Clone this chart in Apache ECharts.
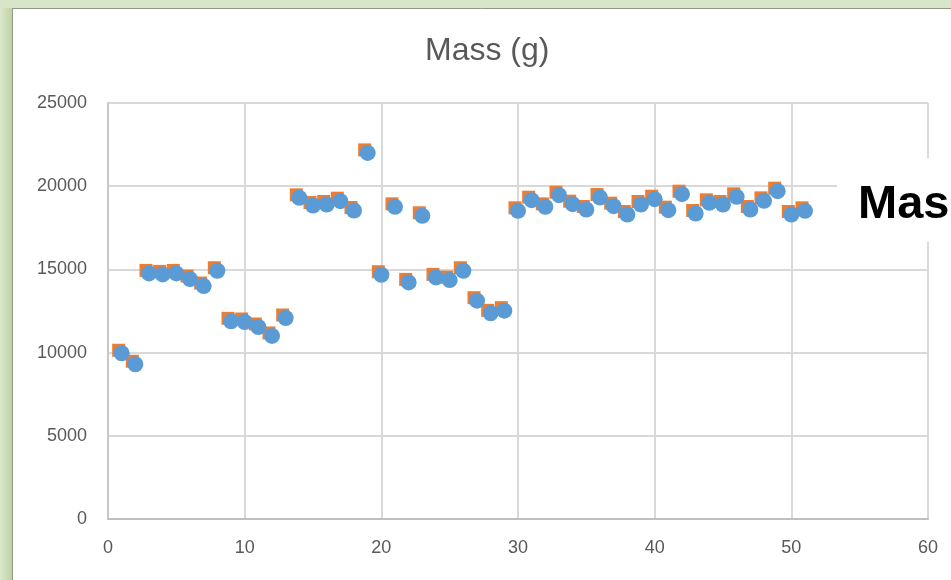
<!DOCTYPE html>
<html>
<head>
<meta charset="utf-8">
<script src="https://cdn.jsdelivr.net/npm/echarts@6/dist/echarts.min.js"></script>
<style>
  html, body { margin: 0; padding: 0; background: #ffffff; }
  #chart { width: 951px; height: 580px; }
</style>
</head>
<body>
<div id="chart"></div>
<script>
// Sample index (x) and measured mass in grams (y)
var sampleIndex = [1, 2, 3, 4, 5, 6, 7, 8, 9, 10,
                   11, 12, 13, 14, 15, 16, 17, 18, 19, 20,
                   21, 22, 23, 24, 25, 26, 27, 28, 29, 30,
                   31, 32, 33, 34, 35, 36, 37, 38, 39, 40,
                   41, 42, 43, 44, 45, 46, 47, 48, 49, 50, 51];
var massGrams = [9960, 9300, 14760, 14700, 14760, 14420, 14000, 14920, 11880, 11840,
                 11540, 11000, 12080, 19300, 18840, 18900, 19100, 18540, 22000, 14680,
                 18760, 14220, 18220, 14520, 14360, 14920, 13120, 12360, 12520, 18520,
                 19160, 18760, 19460, 18920, 18600, 19320, 18800, 18300, 18900, 19220,
                 18560, 19520, 18360, 19000, 18900, 19360, 18600, 19120, 19700, 18300, 18520];
var xTicks = { min: 0, max: 60, step: 10 };
var yTicks = { min: 0, max: 25000, step: 5000 };
var chartTitle = 'Mass (g)';
var seriesName = 'Mass';

var points = sampleIndex.map(function (x, i) { return [x, massGrams[i]]; });

var font = "'Liberation Sans', Arial, sans-serif";
var chart = echarts.init(document.getElementById('chart'), null, { renderer: 'canvas' });

chart.setOption({
  animation: false,
  backgroundColor: '#ffffff',
  title: {
    text: chartTitle,
    left: 425,
    top: 35,
    padding: 0,
    textStyle: { fontFamily: font, fontSize: 32, fontWeight: 'normal', color: '#595959' }
  },
  grid: {
    left: 108, right: 23, top: 103, bottom: 61,
    containLabel: false,
    outerBoundsMode: 'none'
  },
  xAxis: {
    type: 'value',
    min: xTicks.min, max: xTicks.max, interval: xTicks.step,
    axisLine: { show: true, lineStyle: { color: '#BFBFBF', width: 2 } },
    axisTick: { show: false },
    axisLabel: { fontFamily: font, fontSize: 18, color: '#595959', margin: 20 },
    splitLine: { show: true, lineStyle: { color: '#D9D9D9', width: 2 } }
  },
  yAxis: {
    type: 'value',
    min: yTicks.min, max: yTicks.max, interval: yTicks.step,
    axisLine: { show: true, lineStyle: { color: '#C8C8C8', width: 2 } },
    axisTick: { show: false },
    axisLabel: {
      fontFamily: font, fontSize: 18, color: '#595959', margin: 21,
      formatter: function (v) { return String(v); }
    },
    splitLine: { show: true, lineStyle: { color: '#D9D9D9', width: 2 } }
  },
  series: [
    {
      name: seriesName + ' (alt)',
      type: 'scatter',
      symbol: 'rect',
      symbolSize: 13,
      symbolOffset: [-3, -3],
      itemStyle: { color: '#ED7D31', opacity: 1 },
      data: points,
      z: 2
    },
    {
      name: seriesName,
      type: 'scatter',
      symbol: 'circle',
      symbolSize: 16,
      itemStyle: { color: '#5B9BD5', opacity: 1 },
      data: points,
      z: 3
    }
  ],
  graphic: [
    // green frame strips on the left and top edges
    {
      type: 'rect', z: 0,
      shape: { x: 0, y: 0, width: 12, height: 580 },
      style: {
        fill: new echarts.graphic.LinearGradient(0, 0, 1, 0, [
          { offset: 0, color: '#DCE8CF' },
          { offset: 1, color: '#BDD3A2' }
        ])
      }
    },
    {
      type: 'rect', z: 0,
      shape: { x: 0, y: 0, width: 951, height: 8 },
      style: { fill: '#D8E5C9' }
    },
    {
      type: 'line', z: 1,
      shape: { x1: 12.5, y1: 8, x2: 12.5, y2: 580 },
      style: { stroke: '#8E9A84', lineWidth: 1 }
    },
    {
      type: 'line', z: 1,
      shape: { x1: 12, y1: 8.5, x2: 951, y2: 8.5 },
      style: { stroke: '#8E9A84', lineWidth: 1 }
    },
    // legend box running past the right edge
    {
      type: 'rect', z: 10,
      shape: { x: 837, y: 158, width: 120, height: 84 },
      style: { fill: '#ffffff' }
    },
    {
      type: 'text', z: 11,
      x: 858, y: 182,
      style: {
        text: seriesName,
        fontFamily: font, fontSize: 47, fontWeight: 'bold',
        fill: '#000000',
        verticalAlign: 'top'
      }
    }
  ]
});
</script>
</body>
</html>
